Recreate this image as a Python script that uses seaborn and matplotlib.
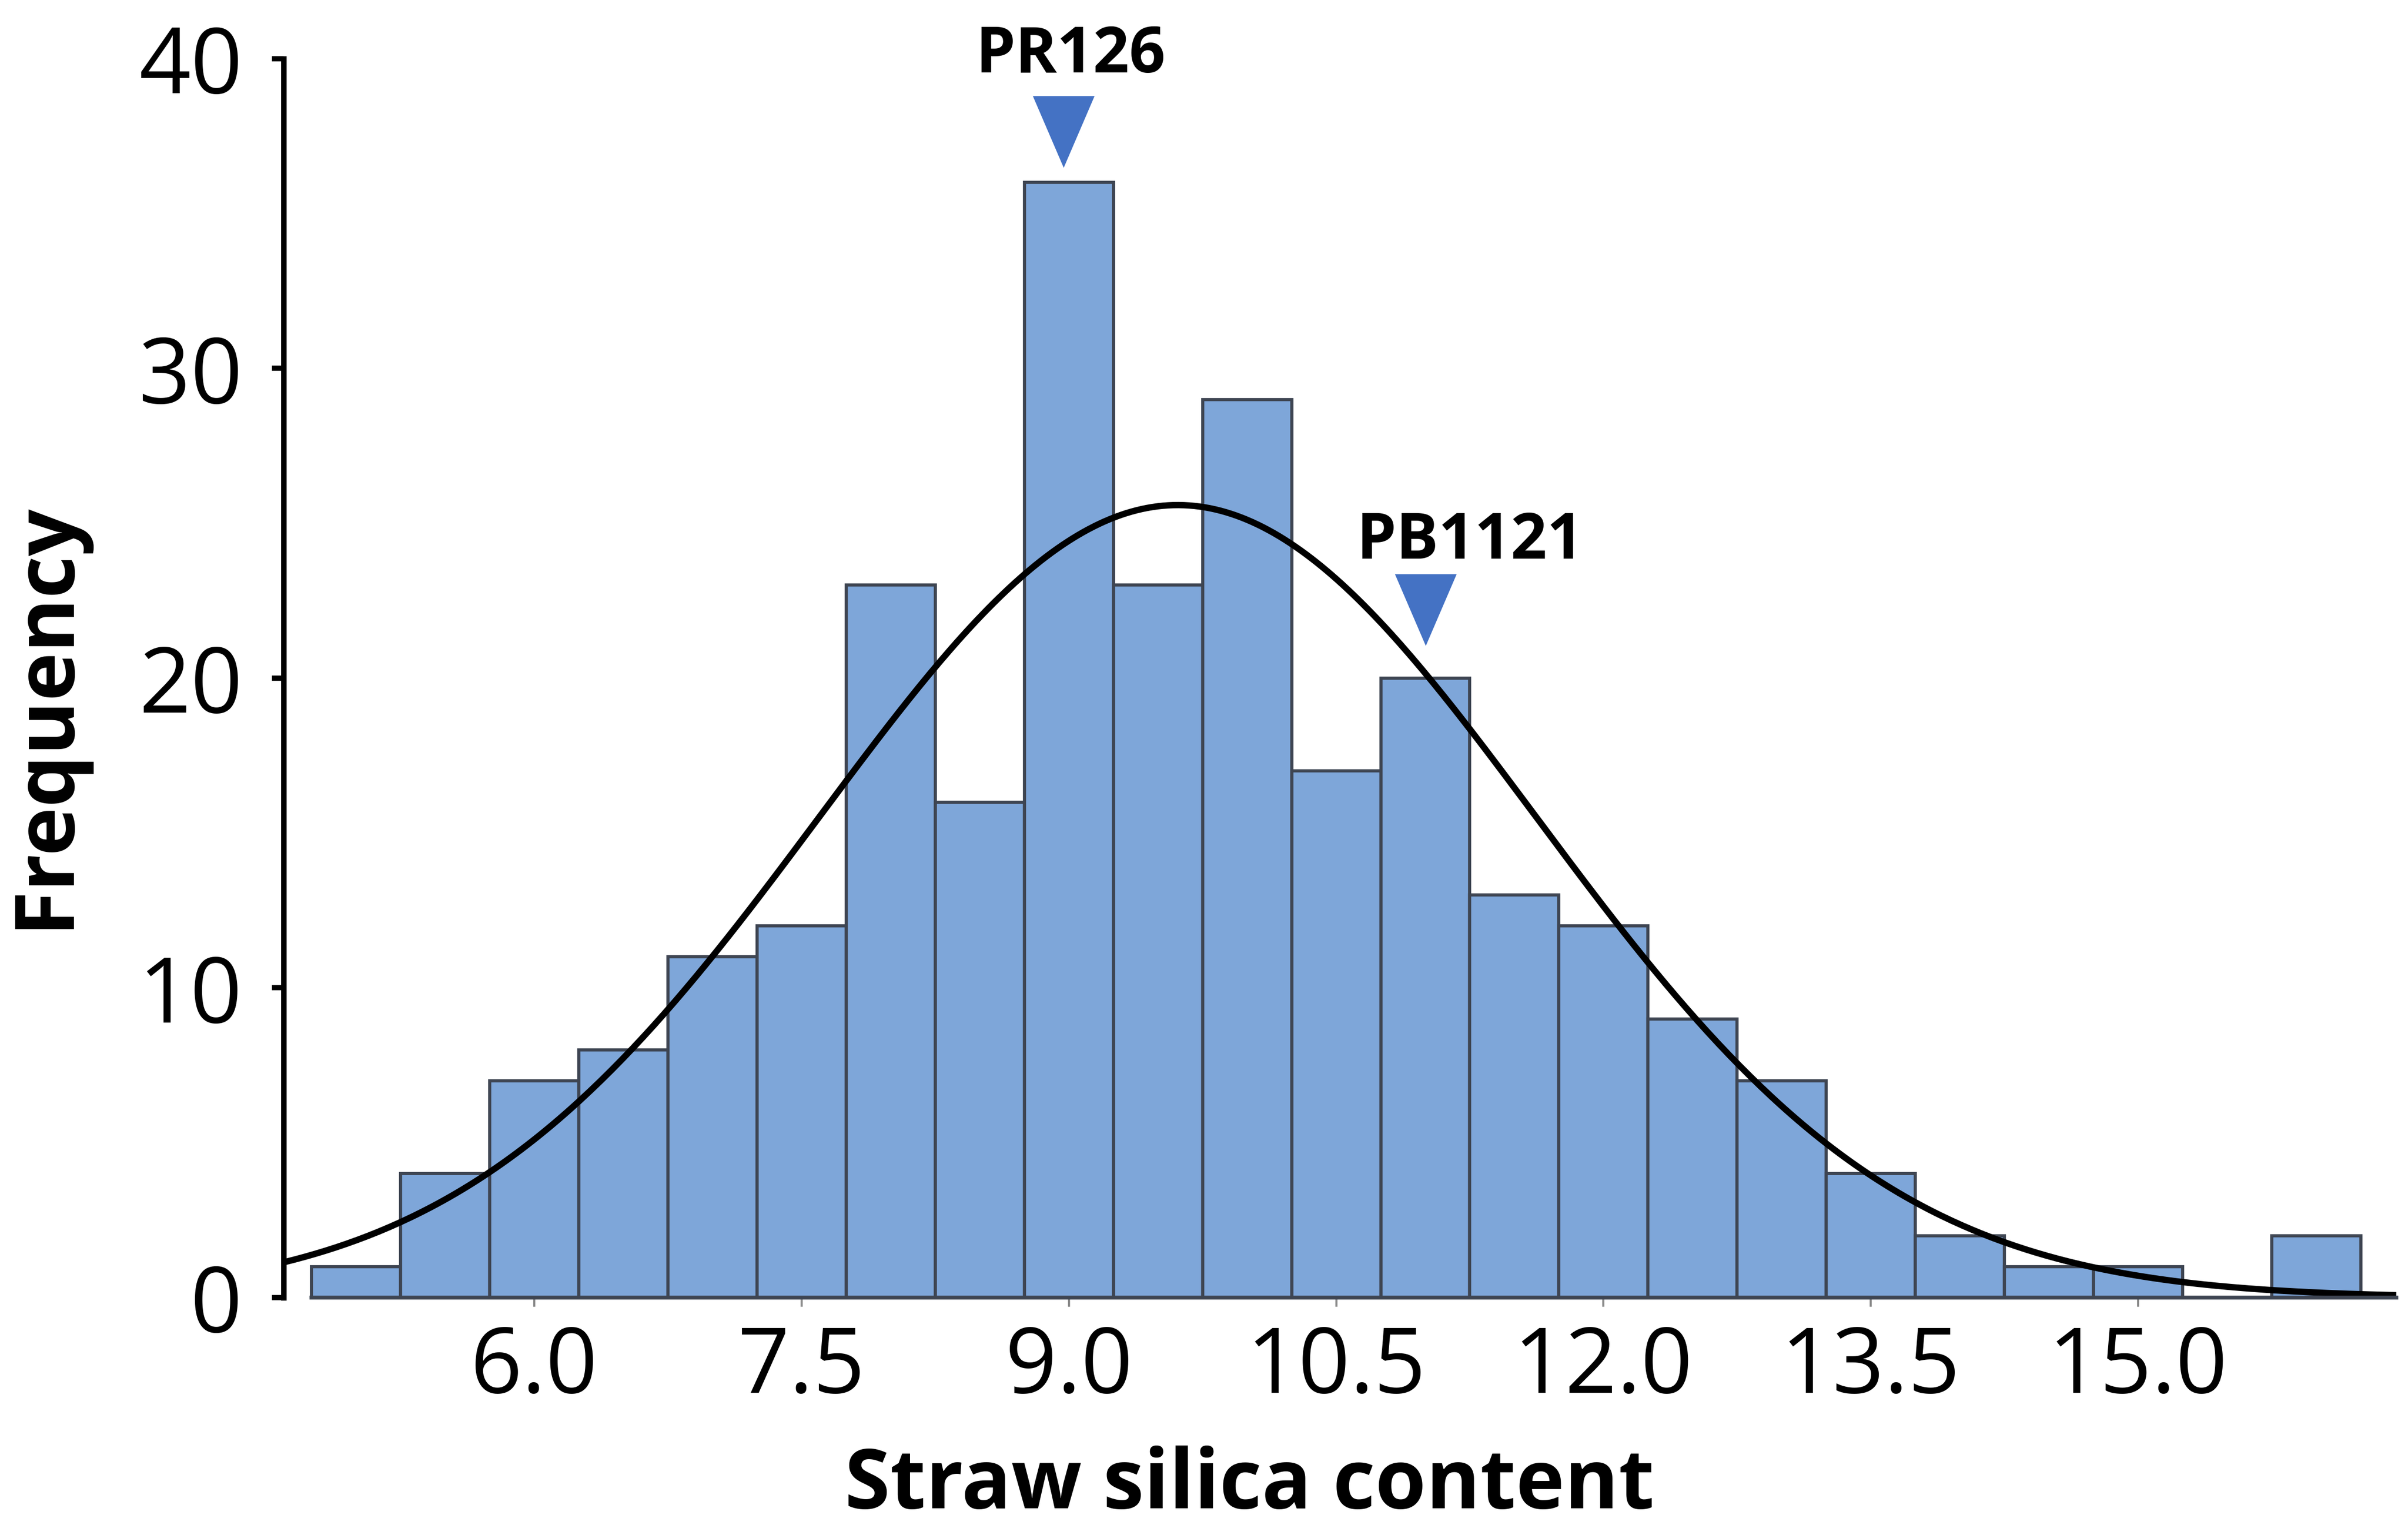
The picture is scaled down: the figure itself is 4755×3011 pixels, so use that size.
import numpy as np
import pandas as pd
import seaborn as sns
import matplotlib.pyplot as plt

# histogram bins (bin centres, width 0.5) and counts
bin_centers = [5.0, 5.5, 6.0, 6.5, 7.0, 7.5, 8.0, 8.5, 9.0, 9.5, 10.0, 10.5,
               11.0, 11.5, 12.0, 12.5, 13.0, 13.5, 14.0, 14.5, 15.0, 15.5, 16.0]
counts = [1, 4, 7, 8, 11, 12, 23, 16, 36, 23, 29, 17,
          20, 13, 12, 9, 7, 4, 2, 1, 1, 0, 2]
bin_width = 0.5

# marked varieties
marker_names = ["PR126", "PB1121"]
marker_x = [8.97, 11.0]
marker_y = [37.65, 22.2]
label_x = [9.01, 11.25]
label_y = [40.1, 24.4]

xticks = [6.0, 7.5, 9.0, 10.5, 12.0, 13.5, 15.0]
yticks = [0, 10, 20, 30, 40]

sns.set_style("white")
plt.rcParams["font.family"] = ["Open Sans", "DejaVu Sans"]
plt.rcParams["text.color"] = "black"
plt.rcParams["xtick.labelcolor"] = "black"
plt.rcParams["ytick.labelcolor"] = "black"

df = pd.DataFrame({"silica": bin_centers, "n": counts})

fig = plt.figure(figsize=(15.85, 10.037), dpi=300)
ax = fig.add_axes([0.1178, 0.1491, 0.8774, 0.8124])

sns.histplot(data=df, x="silica", weights="n", binwidth=bin_width,
             binrange=(4.75, 16.25), color="#7EA6D9", alpha=1,
             edgecolor="#3E4552", linewidth=1.5, ax=ax)

# normal fit from the binned data
c = np.array(counts)
xc = np.array(bin_centers)
mu = np.sum(c * xc) / c.sum()
sd = np.sqrt(np.sum(c * (xc - mu) ** 2) / (c.sum() - 1))
x_min, x_max = 4.593, 16.45
grid = np.linspace(x_min, x_max, 400)
fit = c.sum() * bin_width * np.exp(-0.5 * ((grid - mu) / sd) ** 2) / (sd * np.sqrt(2 * np.pi))
sns.lineplot(x=grid, y=fit, color="black", linewidth=3.0, ax=ax)

tri = [(-0.86, 1), (0.86, 1), (0, -1)]
ax.scatter(marker_x, marker_y, marker=tri, s=34 ** 2, color="#4472C4",
           linewidths=0, zorder=5, clip_on=False)
for name, tx, ty in zip(marker_names, label_x, label_y):
    ax.text(tx, ty, name, ha="center", va="center", fontsize=30,
            fontweight="bold", color="black", clip_on=False)

ax.set_xlim(x_min, x_max)
ax.set_ylim(0, 40)
ax.set_xticks(xticks)
ax.set_xticklabels([f"{t:.1f}" for t in xticks])
ax.set_yticks(yticks)
ax.tick_params(axis="y", direction="out", length=5.5, width=2.5,
               labelsize=43, pad=14, left=True, color="black",
               labelcolor="black")
ax.tick_params(axis="x", direction="out", length=4.4, width=1.0,
               labelsize=43, pad=8, bottom=True, color="#8A8A8A",
               labelcolor="black")

sns.despine(ax=ax)
ax.spines["left"].set_linewidth(2.6)
ax.spines["left"].set_color("black")
ax.spines["left"].set_bounds(0, 40)
ax.spines["bottom"].set_linewidth(1.8)
ax.spines["bottom"].set_color("#3E4552")
ax.spines["bottom"].set_bounds(4.75, x_max)

ax.set_xlabel("")
ax.set_ylabel("")
fig.text(0.519, 0.025, "Straw silica content", ha="center", va="center",
         fontsize=39, fontweight="bold", color="black")
fig.text(0.019, 0.531, "Frequency", ha="center", va="center", rotation=90,
         fontsize=39, fontweight="bold", color="black")

fig.savefig("out.png", dpi=300)
